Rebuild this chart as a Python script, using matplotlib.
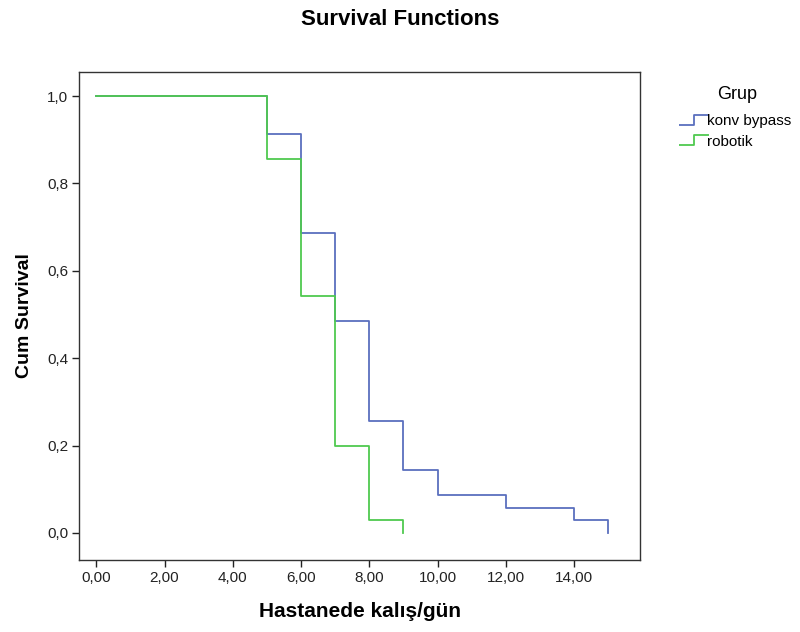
import matplotlib
matplotlib.use('Agg')
import matplotlib.pyplot as plt
from matplotlib.lines import Line2D
from matplotlib.path import Path
from matplotlib.ticker import FuncFormatter

plt.rcParams['font.family'] = ['Liberation Sans', 'DejaVu Sans']

# Kaplan-Meier estimates
konv_time = [0, 5, 6, 7, 8, 9, 10, 12, 14, 15]
konv_surv = [1.0, 0.914, 0.686, 0.486, 0.257, 0.143, 0.0857, 0.0571, 0.0286, 0.0]
robo_time = [0, 5, 6, 7, 8, 9]
robo_surv = [1.0, 0.857, 0.543, 0.200, 0.0286, 0.0]
group_names = ['konv bypass', 'robotik']
group_colors = ['#5b6fbe', '#4fc94f']

fig = plt.figure(figsize=(8, 6.32), dpi=100)
ax = fig.add_axes([0.099, 0.114, 0.701, 0.772])

ax.step(konv_time, konv_surv, where='post', color=group_colors[0], lw=1.3)
ax.step(robo_time, robo_surv, where='post', color=group_colors[1], lw=1.3)

ax.set_xlim(-0.5, 15.93)
ax.set_ylim(-0.062, 1.055)
ax.set_xticks(range(0, 16, 2))
ax.set_yticks([0, 0.2, 0.4, 0.6, 0.8, 1.0])
ax.xaxis.set_major_formatter(FuncFormatter(lambda v, p: f'{v:.2f}'.replace('.', ',')))
ax.yaxis.set_major_formatter(FuncFormatter(lambda v, p: f'{v:.1f}'.replace('.', ',')))
ax.tick_params(direction='out', length=5, width=1, labelsize=11, colors='#222222', pad=3)
for s in ax.spines.values():
    s.set_color('#333333')
    s.set_linewidth(1)

ax.set_xlabel('Hastanede kalış/gün', fontsize=15, fontweight='bold', labelpad=12)
ax.set_ylabel('Cum Survival', fontsize=14, fontweight='bold', labelpad=10)
fig.suptitle('Survival Functions', fontsize=16, fontweight='bold', y=0.986)

# step-shaped legend handles
step_marker = Path([(-1, -0.35), (0, -0.35), (0, 0.35), (1, 0.35)],
                   [Path.MOVETO, Path.LINETO, Path.LINETO, Path.LINETO])
handles = [Line2D([], [], linestyle='none', marker=step_marker, markersize=22,
                  markeredgecolor=c, markerfacecolor='none', markeredgewidth=1.3)
           for c in group_colors]
leg = fig.legend(handles, group_names, title='Grup', loc='upper left',
                 bbox_to_anchor=(0.846, 0.873), frameon=False, fontsize=11,
                 title_fontsize=13, handlelength=1.5, handletextpad=0.1,
                 labelspacing=0.4, borderaxespad=0)
leg._legend_box.sep = 8

fig.savefig('out.png', dpi=100)
